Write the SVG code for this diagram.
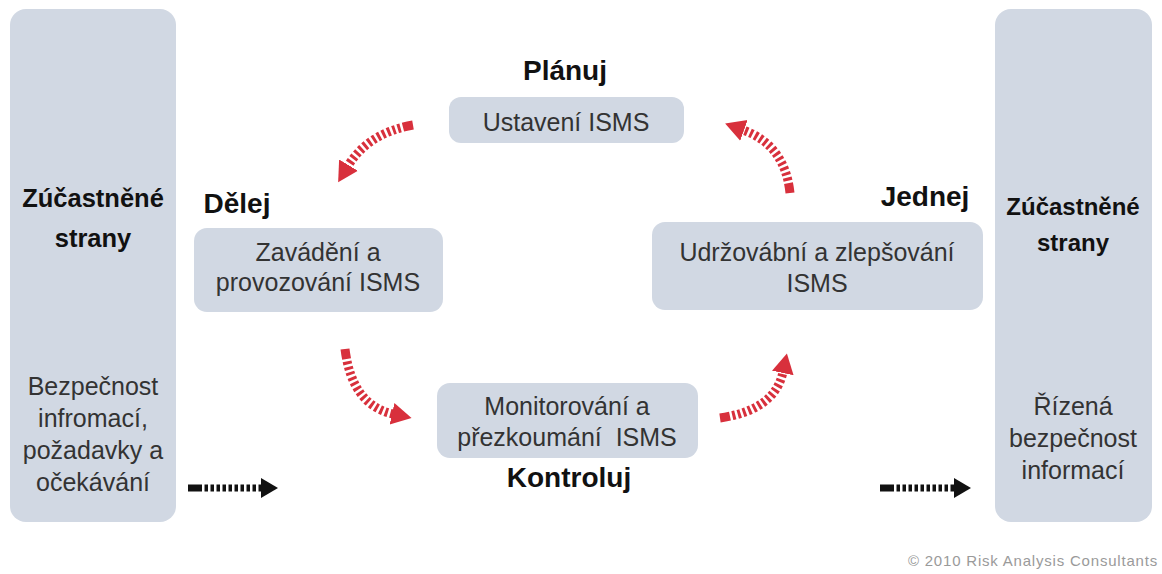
<svg xmlns="http://www.w3.org/2000/svg" width="1162" height="574" viewBox="0 0 1162 574">
<style>
.panel{fill:#d1d8e3}
.box{fill:#d1d8e3}
.t{font-family:"Liberation Sans",Arial,sans-serif;font-size:25px;fill:#333;text-anchor:middle}
.b{font-family:"Liberation Sans",Arial,sans-serif;font-size:28px;font-weight:bold;fill:#111;text-anchor:middle}
.pb{font-family:"Liberation Sans",Arial,sans-serif;font-size:25.5px;font-weight:bold;fill:#111;text-anchor:middle}
.red{fill:none;stroke:#d8303c;stroke-width:9;stroke-dasharray:10 2.5 3 2.5 3 2.5 3 2.5 3 2.5 3 2.5 3 2.5 3 2.5 3 2.5 3 2.5 3 2.5 3 2.5 3 2.5 3 2.5 3 2.5 3 2.5 3 2.5 3 2.5 3 2.5 3 2.5 3 2.5 3 2.5 3 2.5 3 2.5}
.blk{fill:none;stroke:#111;stroke-width:7;stroke-dasharray:14 2.5 3.5 2.5 3.5 2.5 3.5 2.5 3.5 2.5 3.5 2.5 3.5 2.5 3.5 2.5 3.5 2.5 3.5 2.5 3.5 2.5 3.5 2.5 3.5 2.5 40}
</style>
<defs>
<marker id="rh" markerUnits="userSpaceOnUse" markerWidth="22" markerHeight="24" refX="1" refY="12" orient="auto" viewBox="0 0 22 24">
<path d="M0,1 L20,12 L0,23 Z" fill="#d8303c"/>
</marker>
<marker id="bh" markerUnits="userSpaceOnUse" markerWidth="18" markerHeight="22" refX="1" refY="11" orient="auto" viewBox="0 0 18 22">
<path d="M0,1 L17,11 L0,21 Z" fill="#111"/>
</marker>
</defs>
<rect width="1162" height="574" fill="#fff"/>

<g id="left-panel">
<rect class="panel" x="10" y="9" width="166" height="513" rx="16"/>
<text class="pb" x="93" y="207">Zúčastněné</text>
<text class="pb" x="93" y="247">strany</text>
<text class="t" x="93" y="395">Bezpečnost</text>
<text class="t" x="93" y="427">infromací,</text>
<text class="t" x="93" y="459">požadavky a</text>
<text class="t" x="93" y="491">očekávání</text>
</g>

<g id="right-panel">
<rect class="panel" x="995" y="9" width="157" height="513" rx="16"/>
<text class="pb" x="1073" y="215" style="font-size:24px">Zúčastněné</text>
<text class="pb" x="1073" y="251" style="font-size:24px">strany</text>
<text class="t" x="1073" y="415">Řízená</text>
<text class="t" x="1073" y="447">bezpečnost</text>
<text class="t" x="1073" y="479">informací</text>
</g>

<g id="plan">
<text class="b" x="565" y="80">Plánuj</text>
<rect class="box" x="449" y="97" width="235" height="46" rx="12"/>
<text class="t" x="566" y="131">Ustavení ISMS</text>
</g>

<g id="do">
<text class="b" x="237" y="213">Dělej</text>
<rect class="box" x="194" y="228" width="249" height="84" rx="13"/>
<text class="t" x="318" y="261">Zavádění a</text>
<text class="t" x="318" y="291">provozování ISMS</text>
</g>

<g id="act">
<text class="b" x="925" y="206">Jednej</text>
<rect class="box" x="652" y="222" width="331" height="88" rx="13"/>
<text class="t" x="817" y="261">Udržovábní a zlepšování</text>
<text class="t" x="817" y="292">ISMS</text>
</g>

<g id="check">
<rect class="box" x="437" y="383" width="261" height="75" rx="13"/>
<text class="t" x="567" y="415">Monitorování a</text>
<text class="t" x="567" y="446" xml:space="preserve">přezkoumání  ISMS</text>
<text class="b" x="569" y="487">Kontroluj</text>
</g>

<g id="connectors">
<path class="red" d="M413,125 Q368,133 348,166" marker-end="url(#rh)"/>
<path class="red" d="M790,193 Q785,145 743,130" marker-end="url(#rh)"/>
<path class="red" d="M345,349 Q352,405 393,414" marker-end="url(#rh)"/>
<path class="red" d="M720,418 Q775,410 783,372" marker-end="url(#rh)"/>
<path class="blk" d="M188,488 H262" marker-end="url(#bh)"/>
<path class="blk" d="M880,488 H955" marker-end="url(#bh)"/>
</g>

<text x="1158" y="566" font-family="Liberation Sans,Arial,sans-serif" font-size="15" letter-spacing="0.8" fill="#9a9a9a" text-anchor="end">© 2010 Risk Analysis Consultants</text>
</svg>
